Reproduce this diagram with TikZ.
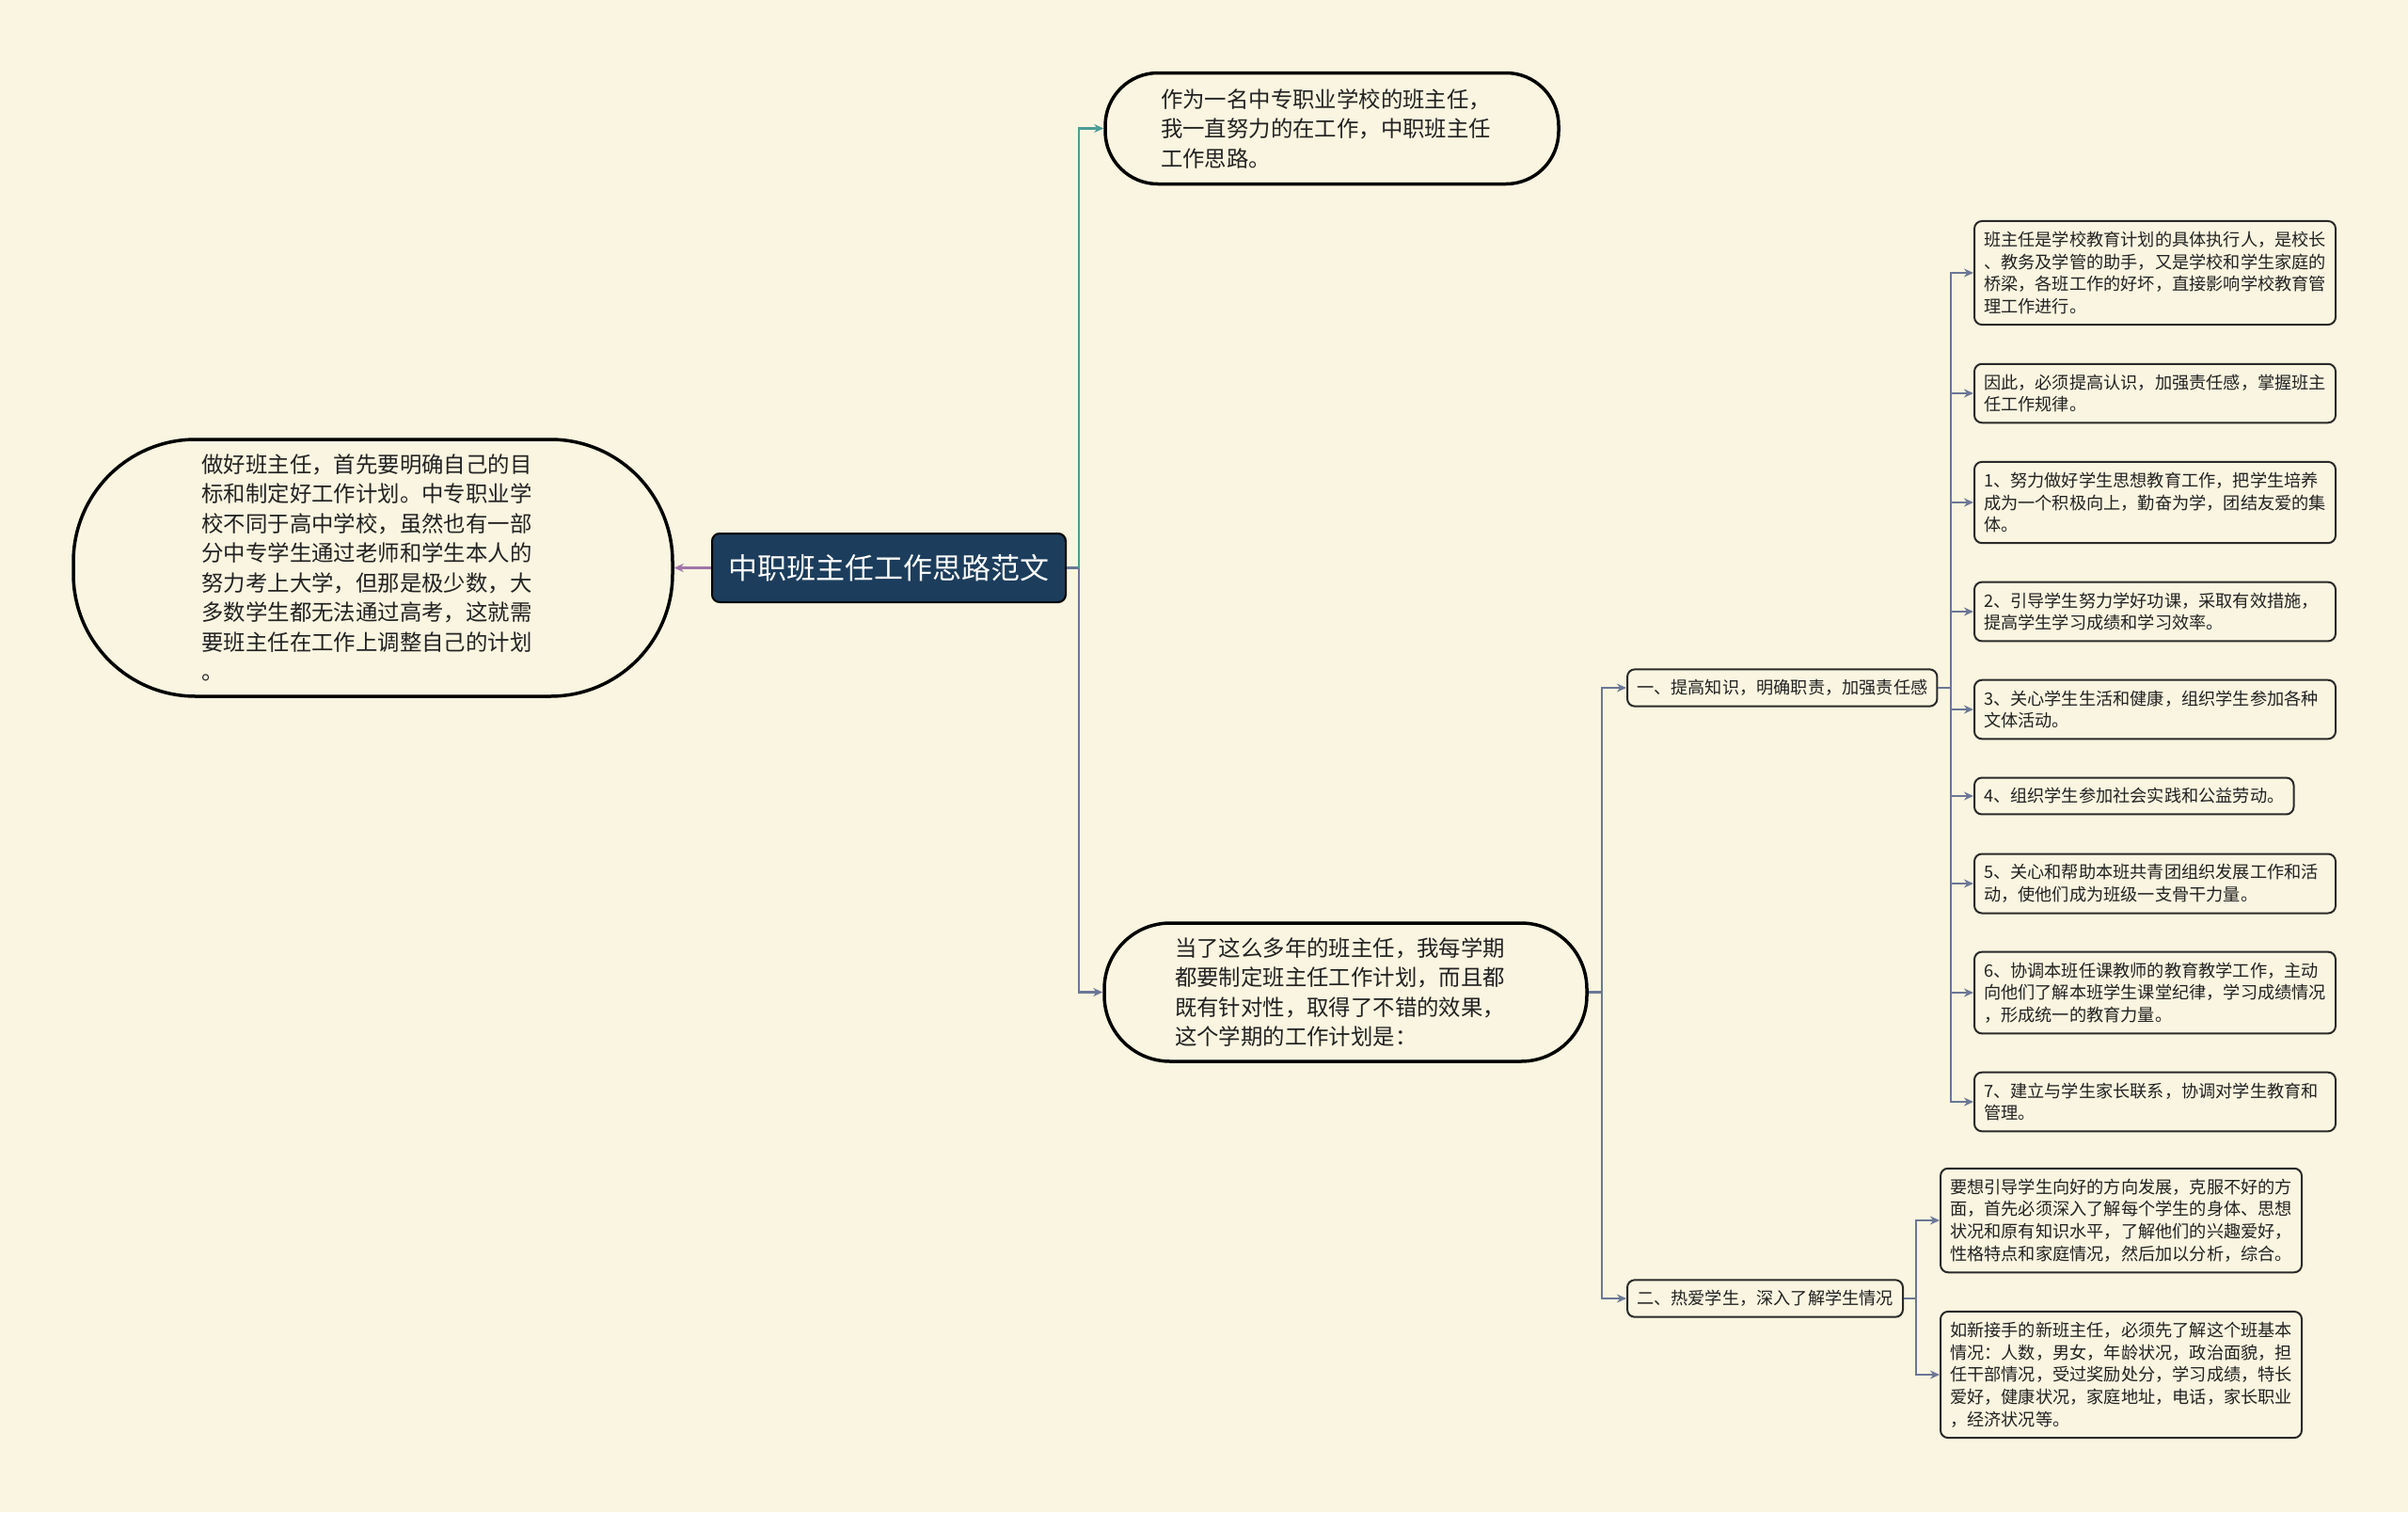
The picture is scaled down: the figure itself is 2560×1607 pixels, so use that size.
\documentclass[tikz,border=0pt]{standalone}
\usepackage{fontspec}
\setmainfont{Noto Sans CJK SC}
\usetikzlibrary{arrows.meta}
\definecolor{bgc}{HTML}{F9F5E0}
\definecolor{rootc}{HTML}{1C3D5C}
\definecolor{tealc}{HTML}{4C9C97}
\definecolor{slatec}{HTML}{6B7796}
\definecolor{purplec}{HTML}{A175A8}
\definecolor{textc}{HTML}{222222}
\definecolor{leafdraw}{HTML}{2A2A2A}
\tikzset{
  leaf/.style={draw=leafdraw, line width=2pt, rounded corners=8pt, fill=bgc, align=left,
    font=\fontsize{18.2}{23.7}\selectfont, inner xsep=10pt, inner ysep=11pt, text=textc},
  wide/.style={leaf, text width=364pt},
  big/.style={draw=black, line width=3.5pt, fill=bgc, align=left, text=textc,
    font=\fontsize{23.4}{31.5}\selectfont},
  rootbox/.style={draw=black, line width=2pt, rounded corners=8pt, fill=rootc, text=white,
    font=\fontsize{31}{37}\selectfont, minimum width=376pt, minimum height=73pt},
  conn/.style={line width=2.5pt, -{Stealth[length=10pt,width=9pt]}},
  link/.style={line width=2.5pt}
}
\begin{document}
\begin{tikzpicture}[x=1pt,y=-1pt]
\fill[bgc] (0,0) rectangle (2560,1607);
\useasboundingbox (0,0) rectangle (2560,1607);

\node[rootbox] (root) at (945,603.5) {中职班主任工作思路范文};

\node[big, minimum width=637pt, minimum height=273pt, rounded corners=130pt] (left) at (396.5,603.5) {做好班主任，首先要明确自己的目\hspace*{13pt}\\标和制定好工作计划。中专职业学\\校不同于高中学校，虽然也有一部\\分中专学生通过老师和学生本人的\\努力考上大学，但那是极少数，大\\多数学生都无法通过高考，这就需\\要班主任在工作上调整自己的计划\\。};

\node[big, minimum width=482pt, minimum height=118pt, rounded corners=56pt] (n1) at (1416,136.5) {作为一名中专职业学校的班主任，\hspace*{13pt}\\我一直努力的在工作，中职班主任\\工作思路。};

\node[big, minimum width=513pt, minimum height=147pt, rounded corners=70pt] (n2) at (1430.5,1054.5) {当了这么多年的班主任，我每学期\hspace*{12pt}\\都要制定班主任工作计划，而且都\\既有针对性，取得了不错的效果，\\这个学期的工作计划是：};

\node[leaf, anchor=west] (L1) at (1729,731) {一、提高知识，明确职责，加强责任感};
\node[leaf, anchor=west] (L2) at (1729,1380) {二、热爱学生，深入了解学生情况};

\node[wide, anchor=west] (a1) at (2098,290) {班主任是学校教育计划的具体执行人，是校长\\、教务及学管的助手，又是学校和学生家庭的\\桥梁，各班工作的好坏，直接影响学校教育管\\理工作进行。};
\node[wide, anchor=west] (a2) at (2098,418) {因此，必须提高认识，加强责任感，掌握班主\\任工作规律。};
\node[wide, anchor=west] (a3) at (2098,534) {1、努力做好学生思想教育工作，把学生培养\\成为一个积极向上，勤奋为学，团结友爱的集\\体。};
\node[wide, anchor=west] (a4) at (2098,650) {2、引导学生努力学好功课，采取有效措施，\\提高学生学习成绩和学习效率。};
\node[wide, anchor=west] (a5) at (2098,754) {3、关心学生生活和健康，组织学生参加各种\\文体活动。};
\node[leaf, anchor=west] (a6) at (2098,846) {4、组织学生参加社会实践和公益劳动。};
\node[wide, anchor=west] (a7) at (2098,939) {5、关心和帮助本班共青团组织发展工作和活\\动，使他们成为班级一支骨干力量。};
\node[wide, anchor=west] (a8) at (2098,1055) {6、协调本班任课教师的教育教学工作，主动\\向他们了解本班学生课堂纪律，学习成绩情况\\，形成统一的教育力量。};
\node[wide, anchor=west] (a9) at (2098,1171) {7、建立与学生家长联系，协调对学生教育和\\管理。};

\node[wide, anchor=west] (b1) at (2062,1297) {要想引导学生向好的方向发展，克服不好的方\\面，首先必须深入了解每个学生的身体、思想\\状况和原有知识水平，了解他们的兴趣爱好，\\性格特点和家庭情况，然后加以分析，综合。};
\node[wide, anchor=west] (b2) at (2062,1461) {如新接手的新班主任，必须先了解这个班基本\\情况：人数，男女，年龄状况，政治面貌，担\\任干部情况，受过奖励处分，学习成绩，特长\\爱好，健康状况，家庭地址，电话，家长职业\\，经济状况等。};

% connectors
\draw[conn, purplec] (root.west) -- (left.east);
\coordinate (j0) at (1147,603.5);
\draw[link, slatec] (root.east) -- (j0);
\draw[conn, tealc] (j0) |- (n1.west);
\draw[conn, slatec] (j0) |- (n2.west);

\coordinate (j1) at (1703,1054.5);
\draw[link, slatec] (n2.east) -- (j1);
\draw[conn, slatec] (j1) |- (L1.west);
\draw[conn, slatec] (j1) |- (L2.west);

\coordinate (j2) at (2074,731);
\draw[link, slatec] (L1.east) -- (j2);
\foreach \n in {a1,a2,a3,a4,a5,a6,a7,a8,a9}
  \draw[conn, slatec] (j2) |- (\n.west);

\coordinate (j3) at (2037,1380);
\draw[link, slatec] (L2.east) -- (j3);
\foreach \n in {b1,b2}
  \draw[conn, slatec] (j3) |- (\n.west);
\end{tikzpicture}
\end{document}
